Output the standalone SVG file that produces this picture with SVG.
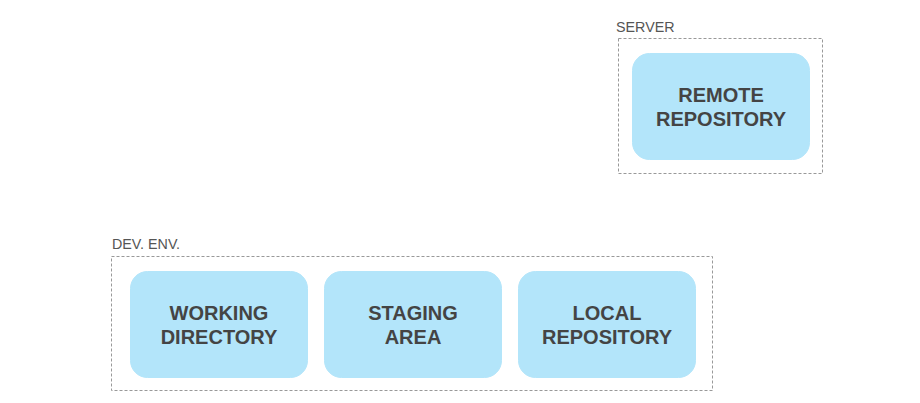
<svg xmlns="http://www.w3.org/2000/svg" width="920" height="403" viewBox="0 0 920 403">
<style>
.grp{fill:none;stroke:#999;stroke-width:1;stroke-dasharray:3,2}
.glabel{font-family:"Liberation Sans",Arial,sans-serif;font-size:14.3px;fill:#555}
.node rect{fill:#b3e5fa;stroke:#b3e5fa}
.node text{font-family:"Liberation Sans",Arial,sans-serif;font-size:20px;font-weight:bold;fill:#444;text-anchor:middle}
</style>
<rect width="920" height="403" fill="#fff"/>
<g id="server">
<rect class="grp" x="618.5" y="38.5" width="204" height="135"/>
<text class="glabel" x="616" y="32">SERVER</text>
</g>
<g id="devenv">
<rect class="grp" x="111.5" y="256.5" width="601" height="134"/>
<text class="glabel" x="112" y="249">DEV. ENV.</text>
</g>
<g id="remote" class="node">
<rect x="632.5" y="53.5" width="177" height="106" rx="17"/>
<text x="721" y="102">REMOTE</text>
<text x="721" y="126">REPOSITORY</text>
</g>
<g id="working" class="node">
<rect x="130.5" y="271.5" width="177" height="106" rx="17"/>
<text x="219" y="320">WORKING</text>
<text x="219" y="344">DIRECTORY</text>
</g>
<g id="staging" class="node">
<rect x="324.5" y="271.5" width="177" height="106" rx="17"/>
<text x="413" y="320">STAGING</text>
<text x="413" y="344">AREA</text>
</g>
<g id="local" class="node">
<rect x="518.5" y="271.5" width="177" height="106" rx="17"/>
<text x="607" y="320">LOCAL</text>
<text x="607" y="344">REPOSITORY</text>
</g>
<g id="connectors"></g>
</svg>
